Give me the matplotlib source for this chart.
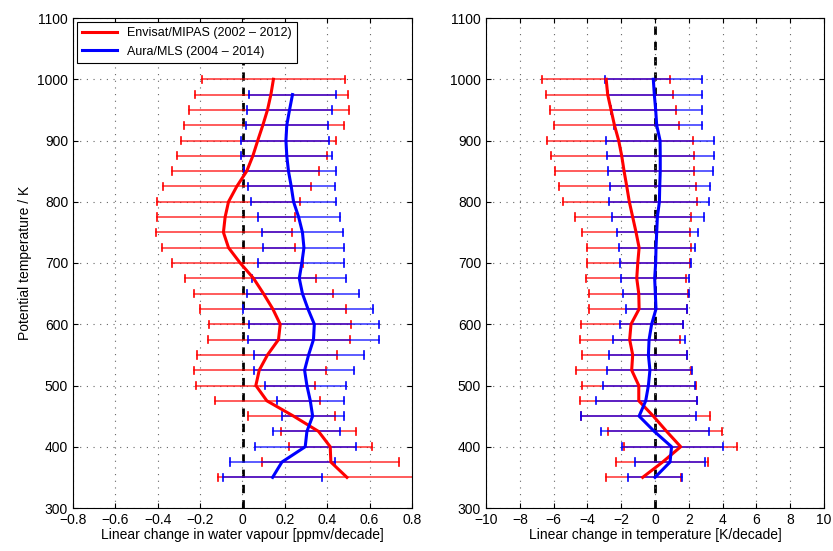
import matplotlib
matplotlib.use('Agg')
import matplotlib.pyplot as plt
import numpy as np

plt.rcParams['font.family'] = ['Liberation Sans', 'DejaVu Sans']
plt.rcParams['font.size'] = 10

theta = np.arange(1000, 349, -25)  # 1000 ... 350

# water vapour trends [ppmv/decade]
mipas_h2o = [0.146, 0.134, 0.118, 0.096, 0.072, 0.049, 0.020, -0.027, -0.066, -0.082, -0.090, -0.066, -0.011,
             0.052, 0.099, 0.143, 0.178, 0.170, 0.118, 0.079, 0.063, 0.115, 0.241, 0.359, 0.414, 0.417, 0.493]
mipas_h2o_lo = [-0.189, -0.224, -0.252, -0.276, -0.291, -0.309, -0.335, -0.373, -0.403, -0.403, -0.409, -0.381, -0.334,
                -0.272, -0.231, -0.200, -0.157, -0.164, -0.216, -0.227, -0.220, -0.128, 0.024, 0.181, 0.220, 0.093, -0.115]
mipas_h2o_hi = [0.482, 0.498, 0.501, 0.480, 0.439, 0.400, 0.359, 0.323, 0.272, 0.246, 0.235, 0.249, 0.285,
                0.348, 0.427, 0.490, 0.513, 0.509, 0.446, 0.394, 0.342, 0.364, 0.436, 0.534, 0.611, 0.740, 0.82]
mls_h2o = [np.nan, 0.236, 0.222, 0.209, 0.205, 0.209, 0.217, 0.230, 0.241, 0.265, 0.283, 0.290, 0.280, 0.268,
           0.283, 0.309, 0.339, 0.335, 0.312, 0.293, 0.304, 0.320, 0.331, 0.304, 0.296, 0.186, 0.142]
mls_h2o_lo = [np.nan, 0.031, 0.020, 0.016, -0.006, -0.006, 0.005, 0.027, 0.041, 0.071, 0.090, 0.099, 0.071, 0.047,
              0.019, 0.002, 0.033, 0.027, 0.052, 0.055, 0.107, 0.165, 0.186, 0.143, 0.058, -0.060, -0.091]
mls_h2o_hi = [np.nan, 0.443, 0.422, 0.402, 0.409, 0.422, 0.439, 0.436, 0.439, 0.458, 0.476, 0.480, 0.480, 0.490,
              0.548, 0.614, 0.643, 0.646, 0.572, 0.524, 0.490, 0.477, 0.479, 0.461, 0.534, 0.435, 0.376]

# temperature trends [K/decade]
mipas_t = [-2.89, -2.80, -2.60, -2.40, -2.15, -1.97, -1.83, -1.67, -1.52, -1.32, -1.12, -0.94, -1.02, -1.08,
           -0.96, -0.94, -1.42, -1.50, -1.32, -1.38, -0.96, -0.96, -0.10, 0.69, 1.52, 0.45, -0.73]
mipas_t_lo = [-6.69, -6.46, -6.24, -5.98, -6.38, -6.16, -5.91, -5.67, -5.45, -4.74, -4.33, -4.04, -4.00, -4.11,
              -3.92, -3.92, -4.35, -4.43, -4.31, -4.69, -4.33, -4.45, -4.37, -2.76, -1.83, -2.30, -2.91]
mipas_t_hi = [0.89, 1.08, 1.24, 1.42, 2.22, 2.30, 2.32, 2.42, 2.50, 2.15, 2.07, 2.11, 2.07, 1.83,
              1.97, 1.89, 1.67, 1.48, 1.87, 2.15, 2.42, 2.48, 3.23, 3.96, 4.84, 3.13, 1.54]
mls_t = [-0.10, -0.04, 0.04, 0.10, 0.30, 0.31, 0.31, 0.28, 0.26, 0.14, 0.10, 0.06, 0.04, -0.02,
         0.02, 0.06, -0.20, -0.35, -0.39, -0.30, -0.39, -0.55, -0.94, -0.04, 0.98, 0.89, 0.0]
mls_t_lo = [-2.93, -2.78, -2.62, -2.44, -2.91, -2.83, -2.81, -2.68, -2.70, -2.52, -2.24, -2.15, -2.09, -2.01,
            -1.89, -1.73, -2.05, -2.46, -2.74, -2.83, -3.07, -3.50, -4.37, -3.19, -1.95, -1.18, -1.61]
mls_t_hi = [2.80, 2.81, 2.81, 2.81, 3.52, 3.48, 3.43, 3.23, 3.21, 2.91, 2.52, 2.34, 2.13, 2.01,
            1.99, 1.91, 1.65, 1.75, 1.91, 2.17, 2.38, 2.48, 2.40, 3.21, 4.00, 2.93, 1.61]


def draw_errbars(ax, lo, hi, color):
    for y, a, b in zip(theta, lo, hi):
        if np.isnan(a):
            continue
        ax.plot([a, b], [y, y], color=color, lw=1.2, alpha=0.75)
        ax.plot([a, a], [y - 6, y + 6], color=color, lw=1.2)
        ax.plot([b, b], [y - 6, y + 6], color=color, lw=1.2)


def panel(ax, xlim, xticks, xlabel):
    ax.set_xlim(xlim)
    ax.set_ylim(300, 1100)
    ax.set_xticks(xticks)
    ax.set_yticks(np.arange(300, 1101, 100))
    ax.axvline(0, color='k', lw=2, ls=(0, (3, 2.5)), zorder=1)
    ax.grid(True, ls=(0, (1, 5)), color='0.4', lw=0.8)
    ax.tick_params(direction='in', top=True, right=True)
    ax.set_xlabel(xlabel, labelpad=1)


fig = plt.figure(figsize=(8.33, 5.51), dpi=100)
ax1 = fig.add_axes([73 / 833, 43 / 551, 339 / 833, 490 / 551])
ax2 = fig.add_axes([486 / 833, 43 / 551, 338 / 833, 490 / 551])

# water vapour
draw_errbars(ax1, mipas_h2o_lo, mipas_h2o_hi, 'red')
draw_errbars(ax1, mls_h2o_lo, mls_h2o_hi, 'blue')
ax1.plot(mipas_h2o, theta, color='red', lw=2.2, label='Envisat/MIPAS (2002 \u2013 2012)')
ax1.plot(mls_h2o, theta, color='blue', lw=2.2, label='Aura/MLS (2004 \u2013 2014)')
panel(ax1, (-0.8, 0.8), np.arange(-0.8, 0.81, 0.2), 'Linear change in water vapour [ppmv/decade]')
ax1.set_xticklabels(['\u22120.8', '\u22120.6', '\u22120.4', '\u22120.2', '0', '0.2', '0.4', '0.6', '0.8'])
ax1.set_ylabel('Potential temperature / K')
leg = ax1.legend(loc='upper left', fontsize=9, fancybox=False, edgecolor='k', framealpha=1,
                 borderaxespad=0.35, handlelength=2.8)
leg.get_frame().set_linewidth(0.8)

# temperature
draw_errbars(ax2, mipas_t_lo, mipas_t_hi, 'red')
draw_errbars(ax2, mls_t_lo, mls_t_hi, 'blue')
ax2.plot(mipas_t, theta, color='red', lw=2.2)
ax2.plot(mls_t, theta, color='blue', lw=2.2)
panel(ax2, (-10, 10), np.arange(-10, 11, 2), 'Linear change in temperature [K/decade]')
ax2.set_xticklabels(['\u221210', '\u22128', '\u22126', '\u22124', '\u22122', '0', '2', '4', '6', '8', '10'])

fig.savefig('out.png', dpi=100)
